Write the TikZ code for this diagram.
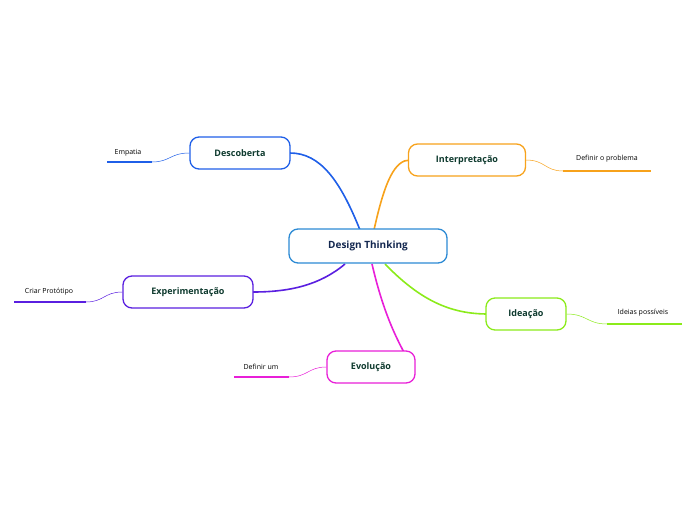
\documentclass[tikz,border=0pt]{standalone}
\usepackage{fontspec}
\setmainfont{Open Sans}
\definecolor{cblue}{HTML}{1F5FE8}
\definecolor{corange}{HTML}{F7A21B}
\definecolor{cgreen}{HTML}{8BEB1A}
\definecolor{cmag}{HTML}{E81FD8}
\definecolor{cpurp}{HTML}{5A1FE0}
\definecolor{ccenter}{HTML}{2C8AD4}
\definecolor{ctext}{HTML}{0E3A2E}
\begin{document}
\begin{tikzpicture}[x=1pt,y=-1pt,
  topic/.style={draw=#1,line width=1.3pt,rounded corners=9pt,fill=white,minimum height=32pt,font=\bfseries\small,text=ctext},
  leaf/.style={font=\scriptsize,inner sep=1pt},
  under/.style={draw=#1,line width=2pt},
  link/.style={draw=#1,line width=1.6pt},
  thin/.style={draw=#1,line width=0.5pt}]
\useasboundingbox (0,0) rectangle (696,520);
\coordinate (cc) at (368,246);
% main links
\draw[link=cblue] (360,230) .. controls (340,180) and (320,153) .. (290,153);
\draw[link=corange] (374,230) .. controls (385,180) and (395,160) .. (410,160);
\draw[link=cgreen] (385,264) .. controls (420,300) and (450,314) .. (488,314);
\draw[link=cmag] (372,264) .. controls (385,320) and (400,345) .. (412,367);
\draw[link=cpurp] (345,264) .. controls (320,285) and (290,292) .. (253,292);
\node[topic=ccenter,minimum width=158pt,minimum height=34pt,font=\bfseries\normalsize,text={rgb,255:red,20;green,40;blue,80}] (c) at (cc) {Design Thinking};
\node[topic=cblue,minimum width=100pt] (d) at (240,153) {Descoberta};
\node[topic=corange,minimum width=117pt] (i) at (467,160) {Interpretação};
\node[topic=cgreen,minimum width=80pt] (id) at (526,314) {Ideação};
\node[topic=cmag,minimum width=88pt] (e) at (371,367) {Evolução};
\node[topic=cpurp,minimum width=130pt] (x) at (188,292) {Experimentação};
% leaves
\coordinate (l1a) at (107,162); \coordinate (l1b) at (152,162);
\node[leaf] (l1) at (128,153) {Empatia};
\draw[under=cblue] (l1a) -- (l1b);
\draw[thin=cblue] (d.west) .. controls (170,153) and (170,162) .. (l1b);
\coordinate (l2a) at (563,171); \coordinate (l2b) at (651,171);
\node[leaf] (l2) at (607,159) {Definir o problema};
\draw[under=corange] (l2a) -- (l2b);
\draw[thin=corange] (i.east) .. controls (545,160) and (545,171) .. (l2a);
\coordinate (l3a) at (607,324); \coordinate (l3b) at (682,324);
\node[leaf] (l3) at (643,313) {Ideias possíveis};
\draw[under=cgreen] (l3a) -- (l3b);
\draw[thin=cgreen] (id.east) .. controls (587,314) and (587,324) .. (l3a);
\coordinate (l4a) at (234,377); \coordinate (l4b) at (289,377);
\node[leaf] (l4) at (261,367) {Definir um};
\draw[under=cmag] (l4a) -- (l4b);
\draw[thin=cmag] (e.west) .. controls (308,367) and (308,377) .. (l4b);
\coordinate (l5a) at (14,302); \coordinate (l5b) at (86,302);
\node[leaf] (l5) at (49,292) {Criar Protótipo};
\draw[under=cpurp] (l5a) -- (l5b);
\draw[thin=cpurp] (x.west) .. controls (104,292) and (104,302) .. (l5b);
\end{tikzpicture}
\end{document}
